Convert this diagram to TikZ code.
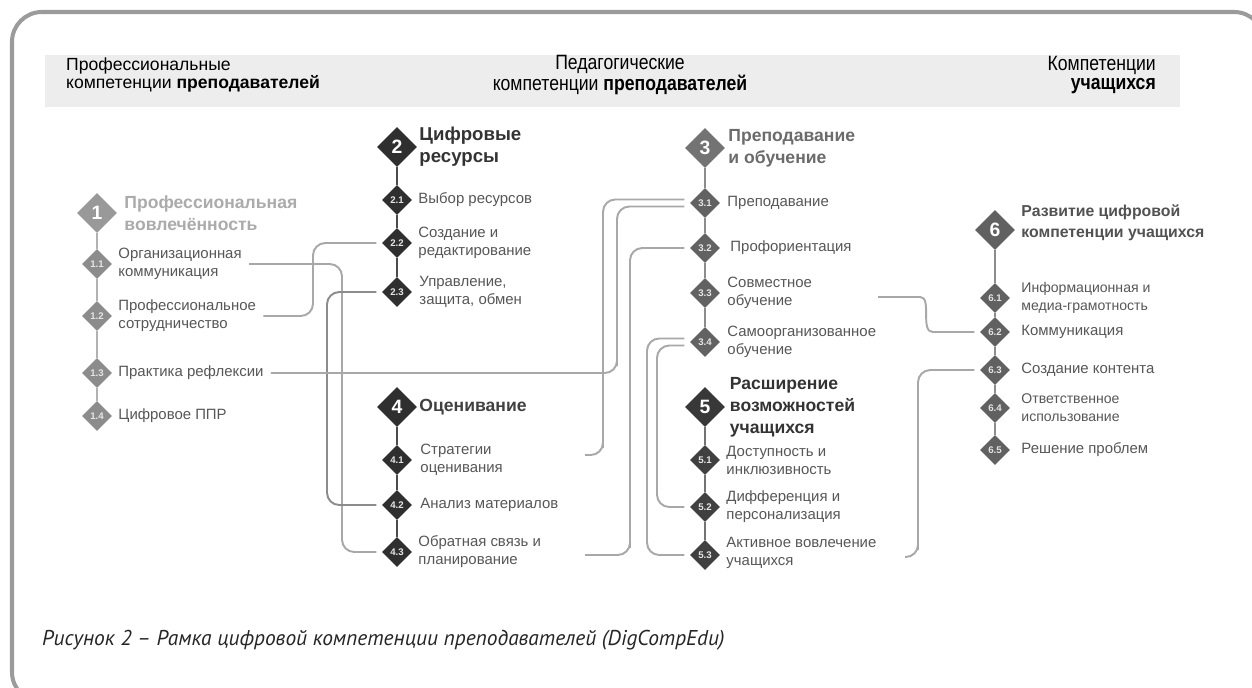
\documentclass[tikz,border=0pt]{standalone}
\usepackage{fontspec}
\setmainfont{Liberation Sans}
\newfontfamily\narrowfont{Liberation Sans}[FakeStretch=0.85]
\newfontfamily\capfont{PT Sans}
\usepackage{tikz}
\usetikzlibrary{shapes.geometric,positioning,calc}
\definecolor{rama}{HTML}{9B9B9B}
\definecolor{polosa}{HTML}{EDEDED}
\definecolor{svetlyi}{HTML}{8C8C8C}
\definecolor{temnyi}{HTML}{2F2F2F}
\definecolor{srednii}{HTML}{626262}
\definecolor{liniya}{HTML}{A8A8A8}
\definecolor{tekst}{HTML}{575757}
\tikzset{
  bigdia/.style={diamond, inner sep=0pt, minimum width=0.8cm, minimum height=0.8cm, text=white, font=\bfseries\fontsize{11}{11}\selectfont},
  smalldia/.style={diamond, inner sep=0pt, minimum width=0.6cm, minimum height=0.6cm, text=white!80!gray, font=\bfseries\fontsize{5.5}{5.5}\selectfont},
  sublabel/.style={inner sep=1pt, align=left, text=tekst, font=\fontsize{8.5}{10.2}\selectfont},
  headlabel/.style={inner sep=1pt, align=left, font=\bfseries\fontsize{10}{12.5}\selectfont},
  link/.style={draw=liniya, line width=1.1pt, rounded corners=7pt},
  spine/.style={line width=1.4pt}
}

\begin{document}
\begin{tikzpicture}[x=0.02cm, y=-0.02cm]
\useasboundingbox (0,0) rectangle (1252,687);
\fill[white] (0,0) rectangle (1252,687);
% frame and header band
\draw[rama, line width=2.3pt, rounded corners=17pt] (12,12) rectangle (1264,702);
\fill[polosa] (45,55) rectangle (1180,107);
\node[anchor=west, align=left, font=\fontsize{10}{10.5}\selectfont] (h1) at (60,75) {Профессиональные\\компетенции \textbf{преподавателей}};
\node[align=center, font=\narrowfont\fontsize{11.8}{10.7}\selectfont] (h2) at (620,75) {Педагогические\\компетенции \textbf{преподавателей}};
\node[anchor=east, align=right, font=\narrowfont\fontsize{11.8}{10.7}\selectfont] (h3) at (1162,75) {Компетенции\\\textbf{учащихся}};

% column 1
\node[bigdia, fill=black!40] (d1) at (97,213) {1};
\node[smalldia, fill=svetlyi] (d11) at (97,264) {1.1};
\node[smalldia, fill=svetlyi] (d12) at (97,316) {1.2};
\node[smalldia, fill=svetlyi] (d13) at (97,373) {1.3};
\node[smalldia, fill=svetlyi] (d14) at (97,416) {1.4};
\draw[spine, black!30] (d1.south) -- (d11.north) (d11.south) -- (d12.north) (d12.south) -- (d13.north) (d13.south) -- (d14.north);
\node[headlabel, text=black!33, anchor=west, right=0.1cm of d1] (t1) {Профессиональная\\вовлечённость};
\node[sublabel, right=0.08cm of d11] (t11) {Организационная\\коммуникация};
\node[sublabel, right=0.08cm of d12] (t12) {Профессиональное\\сотрудничество};
\node[sublabel, right=0.08cm of d13] (t13) {Практика рефлексии};
\node[sublabel, right=0.08cm of d14] (t14) {Цифровое ППР};

% column 2
\node[bigdia, fill=temnyi] (d2) at (397,147) {2};
\node[smalldia, fill=temnyi] (d21) at (397,200) {2.1};
\node[smalldia, fill=temnyi] (d22) at (397,243) {2.2};
\node[smalldia, fill=temnyi] (d23) at (397,292) {2.3};
\draw[spine, black!70] (d2.south) -- (d21.north) (d21.south) -- (d22.north) (d22.south) -- (d23.north);
\node[headlabel, text=black!80, right=0cm of d2, font=\bfseries\fontsize{10.6}{12.5}\selectfont] (t2) {Цифровые\\ресурсы};
\node[sublabel, right=0.08cm of d21] (t21) {Выбор ресурсов};
\node[sublabel, right=0.08cm of d22] (t22) {Создание и\\редактирование};
\node[sublabel, right=0.1cm of d23] (t23) {Управление,\\защита, обмен};

% column 4
\node[bigdia, fill=temnyi] (d4) at (397,407) {4};
\node[smalldia, fill=temnyi] (d41) at (397,460) {4.1};
\node[smalldia, fill=temnyi] (d42) at (397,505) {4.2};
\node[smalldia, fill=temnyi] (d43) at (397,552) {4.3};
\draw[spine, black!70] (d4.south) -- (d41.north) (d41.south) -- (d42.north) (d42.south) -- (d43.north);
\node[headlabel, text=black!75, right=0cm of d4] (t4) {Оценивание};
\node[sublabel, right=0.12cm of d41] (t41) {Стратегии\\оценивания};
\node[sublabel, right=0.12cm of d42] (t42) {Анализ материалов};
\node[sublabel, right=0.08cm of d43] (t43) {Обратная связь и\\планирование};

% column 3
\node[bigdia, fill=black!55] (d3) at (705,148) {3};
\node[smalldia, fill=srednii] (d31) at (705,203) {3.1};
\node[smalldia, fill=srednii] (d32) at (705,248) {3.2};
\node[smalldia, fill=srednii] (d33) at (705,293) {3.3};
\node[smalldia, fill=srednii] (d34) at (705,342) {3.4};
\draw[spine, black!45] (d3.south) -- (d31.north) (d31.south) -- (d32.north) (d32.south) -- (d33.north) (d33.south) -- (d34.north);
\node[headlabel, text=black!58, right=0.02cm of d3] (t3) {Преподавание\\и обучение};
\node[sublabel, right=0.1cm of d31] (t31) {Преподавание};
\node[sublabel, right=0.16cm of d32] (t32) {Профориентация};
\node[sublabel, right=0.1cm of d33] (t33) {Совместное\\обучение};
\node[sublabel, right=0.1cm of d34] (t34) {Самоорганизованное\\обучение};

% column 5
\node[bigdia, fill=black!78] (d5) at (705,407) {5};
\node[smalldia, fill=black!75] (d51) at (705,460) {5.1};
\node[smalldia, fill=black!75] (d52) at (705,507) {5.2};
\node[smalldia, fill=black!75] (d53) at (705,555) {5.3};
\draw[spine, black!55] (d5.south) -- (d51.north) (d51.south) -- (d52.north) (d52.south) -- (d53.north);
\node[headlabel, text=black!80, right=0.05cm of d5] (t5) {Расширение\\возможностей\\учащихся};
\node[sublabel, right=0.08cm of d51] (t51) {Доступность и\\инклюзивность};
\node[sublabel, right=0.08cm of d52] (t52) {Дифференция и\\персонализация};
\node[sublabel, right=0.08cm of d53, yshift=1pt] (t53) {Активное вовлечение\\учащихся};

% column 6
\node[bigdia, fill=black!62] (d6) at (995,230) {6};
\node[smalldia, fill=black!62] (d61) at (995,298) {6.1};
\node[smalldia, fill=black!62] (d62) at (995,332) {6.2};
\node[smalldia, fill=black!62] (d63) at (995,370) {6.3};
\node[smalldia, fill=black!62] (d64) at (995,408) {6.4};
\node[smalldia, fill=black!62] (d65) at (995,450) {6.5};
\draw[spine, black!45] (d6.south) -- (d61.north) (d61.south) -- (d62.north) (d62.south) -- (d63.north) (d63.south) -- (d64.north) (d64.south) -- (d65.north);
\node[headlabel, text=black!68, right=0.08cm of d6, yshift=4pt, font=\bfseries\fontsize{9}{11.8}\selectfont] (t6) {Развитие цифровой\\компетенции учащихся};
\node[sublabel, right=0.18cm of d61, font=\fontsize{8}{10.2}\selectfont] (t61) {Информационная и\\медиа-грамотность};
\node[sublabel, right=0.18cm of d62] (t62) {Коммуникация};
\node[sublabel, right=0.18cm of d63] (t63) {Создание контента};
\node[sublabel, right=0.18cm of d64, font=\fontsize{8}{10.2}\selectfont] (t64) {Ответственное\\использование};
\node[sublabel, right=0.18cm of d65] (t65) {Решение проблем};

% links between competences
\coordinate (v11) at (342,0);
\coordinate (v12) at (313,0);
\coordinate (v23) at (327,0);
\coordinate (v13) at (617,0);
\coordinate (v41) at (603,0);
\coordinate (v43) at (630,0);
\coordinate (v34a) at (647,0);
\coordinate (v34b) at (657,0);
\coordinate (v53) at (918,0);
\coordinate (s41) at (585,455);
\coordinate (s43) at (585,555);
\coordinate (s33) at (878,297);
\coordinate (s53) at (905,557);
\draw[link] ([xshift=3pt]t11.east) -| (v11 |- d43) -- ([xshift=-3pt]d43.west);
\draw[link] ([xshift=3pt]t12.east) -| (v12 |- d22) -- ([xshift=-3pt]d22.west);
\draw[link, black!45] ([xshift=-3pt]d23.west) -| (v23 |- d42) -- ([xshift=-3pt]d42.west);
\draw[link] ([xshift=3pt]t13.east) -| (v13 |- d13) |- ([xshift=-3pt, yshift=-2pt]d31.west);
\draw[link] (s41) -| (v41 |- s41) |- ([xshift=-3pt, yshift=2pt]d31.west);
\draw[link] (s43) -| (v43 |- s43) |- ([xshift=-3pt]d32.west);
\draw[link] ([xshift=-3pt, yshift=2pt]d34.west) -| (v34a |- d53) -- ([xshift=-3pt]d53.west);
\draw[link] ([xshift=-3pt, yshift=-2pt]d34.west) -| (v34b |- d52) -- ([xshift=-3pt]d52.west);
\draw[link] (s53) -| (v53 |- s53) |- ([xshift=-3pt]d63.west);
\draw[link] (s33) -- (908,297) .. controls (932,297) and (920,332) .. (945,332) -- ([xshift=-3pt]d62.west);

% caption
\node[anchor=west, text=black!85, font=\capfont\itshape\fontsize{12.2}{12.2}\selectfont] (cap) at (36,640) {Рисунок 2 – Рамка цифровой компетенции преподавателей (DigCompEdu)};
\end{tikzpicture}
\end{document}
